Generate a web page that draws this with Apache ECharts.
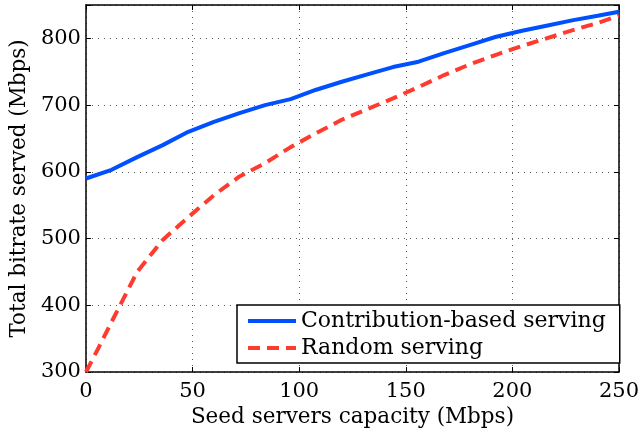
<!DOCTYPE html>
<html><head><meta charset="utf-8">
<script src="https://cdn.jsdelivr.net/npm/echarts@6/dist/echarts.min.js"></script>
<style>html,body{margin:0;padding:0;background:#fff}#c{width:642px;height:435px}</style>
</head><body><div id="c"></div>
<script>
const xValues = [0, 12, 24, 36, 48, 60, 72, 84, 96, 108, 120, 132, 144, 156, 168, 180, 192, 204, 216, 228, 240, 250];
const contribution = [590, 603, 622, 640, 660, 675, 688, 700, 709, 723, 735, 746, 757, 765, 778, 790, 802, 811, 819, 827, 834, 840];
const randomX = [0, 6, 12, 24, 36, 48, 60, 72, 84, 96, 108, 120, 132, 144, 156, 168, 180, 192, 204, 216, 228, 240, 250];
const randomServing = [300, 337, 375, 450, 498, 532, 565, 593, 613, 637, 658, 678, 694, 710, 727, 745, 761, 775, 788, 800, 812, 823, 834];
const seriesNames = ['Contribution-based serving', 'Random serving'];
const xTicks = [0, 50, 100, 150, 200, 250];
const yTicks = [300, 400, 500, 600, 700, 800];

const font = 'DejaVu Serif';
const chart = echarts.init(document.getElementById('c'), null, {renderer: 'canvas'});
const gridLine = {show: true, lineStyle: {color: '#555', type: [1, 5], width: 1}};
const axisLine = {show: true, onZero: false, lineStyle: {color: '#000', width: 1.5}};
const axisTick = {show: true, inside: true, length: 5, lineStyle: {color: '#000', width: 1}};
chart.setOption({
  animation: false,
  backgroundColor: '#fff',
  grid: {left: 85, right: 18, top: 5, bottom: 63, containLabel: false},
  legend: {
    orient: 'vertical', left: 237, top: 305,
    padding: [5, 14, 4, 9],
    borderColor: '#000', borderWidth: 1.5, backgroundColor: '#fff',
    itemWidth: 48, itemHeight: 14, itemGap: 5,
    itemStyle: {opacity: 0},
    lineStyle: {width: 4},
    textStyle: {fontFamily: font, fontSize: 22, color: '#000'},
    data: seriesNames
  },
  xAxis: [{
    type: 'value', min: 0, max: 250, interval: 50,
    name: 'Seed servers capacity (Mbps)', nameLocation: 'middle', nameGap: 31,
    nameTextStyle: {fontFamily: font, fontSize: 21.5, color: '#000'},
    axisLine, axisTick, splitLine: gridLine,
    axisLabel: {fontFamily: font, fontSize: 21, color: '#000', margin: 9,
      formatter: v => xTicks.includes(v) ? String(v) : ''}
  }, {
    type: 'value', position: 'top', min: 0, max: 250, interval: 50,
    axisLine, axisTick, splitLine: {show: false}, axisLabel: {show: false}
  }],
  yAxis: [{
    type: 'value', min: 300, max: 850, interval: 100,
    name: 'Total bitrate served (Mbps)', nameLocation: 'middle', nameGap: 52,
    nameTextStyle: {fontFamily: font, fontSize: 21.5, color: '#000'},
    axisLine, axisTick, splitLine: gridLine,
    axisLabel: {fontFamily: font, fontSize: 21, color: '#000', margin: 5,
      formatter: v => yTicks.includes(v) ? String(v) : ''}
  }, {
    type: 'value', position: 'right', min: 300, max: 850, interval: 100,
    axisLine, axisTick, splitLine: {show: false}, axisLabel: {show: false}
  }],
  series: [{
    name: seriesNames[0], type: 'line', symbol: 'none', smooth: false,
    data: xValues.map((x, i) => [x, contribution[i]]),
    lineStyle: {color: '#0050ff', width: 4}, itemStyle: {color: '#0050ff'}, z: 3
  }, {
    name: seriesNames[1], type: 'line', symbol: 'none', smooth: false,
    data: randomX.map((x, i) => [x, randomServing[i]]),
    lineStyle: {color: '#ff3b2f', width: 4, type: [12, 7]}, itemStyle: {color: '#ff3b2f'}, z: 4
  }]
});
</script></body></html>
